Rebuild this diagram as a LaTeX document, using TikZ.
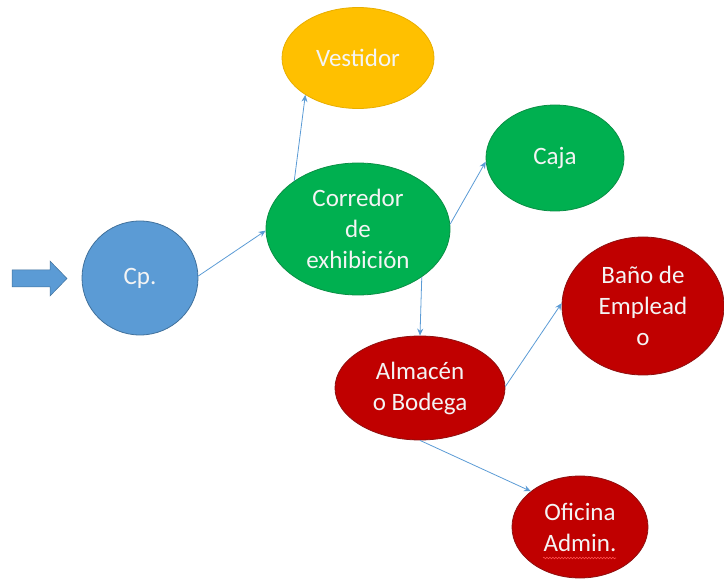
\documentclass[tikz,border=0pt]{standalone}
\usepackage{fontspec}
\setmainfont{Carlito}
\usetikzlibrary{shapes.geometric,arrows.meta,decorations.pathmorphing}

\definecolor{cpblue}{HTML}{5B9BD5}
\definecolor{cpline}{HTML}{41719C}
\definecolor{ygold}{HTML}{FFC000}
\definecolor{ygoldline}{HTML}{E8AE00}
\definecolor{vgreen}{HTML}{00B050}
\definecolor{vgreenline}{HTML}{0A8F45}
\definecolor{dred}{HTML}{C00000}
\definecolor{dredline}{HTML}{8E1010}
\definecolor{txt}{HTML}{F4F4F4}

\tikzset{
  room/.style={ellipse, inner sep=0pt, line width=0.8pt, text=txt,
    align=center, font=\fontsize{25}{31}\selectfont},
  bluebox/.style={room, fill=cpblue, draw=cpline},
  goldbox/.style={room, fill=ygold, draw=ygoldline},
  greenbox/.style={room, fill=vgreen, draw=vgreenline},
  redbox/.style={room, fill=dred, draw=dredline},
  link/.style={draw=cpblue, line width=0.8pt,
    -{Stealth[length=7pt,width=6pt]}},
}

\begin{document}
\begin{tikzpicture}[x=1pt,y=-1pt]
\useasboundingbox (0,0) rectangle (724,588);

% entry arrow
\fill[cpblue, draw=cpline, line width=0.5pt]
  (12,270) -- (50,270) -- (50,261) -- (67,278.5) -- (50,296) -- (50,287) -- (12,287) -- cycle;

% rooms
\node[bluebox, minimum width=116pt, minimum height=114pt] (cp) at (140,278) {Cp.};
\node[goldbox, minimum width=152pt, minimum height=101pt] (vest) at (358,58) {Vestidor};
\node[greenbox, minimum width=184pt, minimum height=132pt] (corr) at (358,229) {Corredor\\de\\exhibición};
\node[greenbox, minimum width=138pt, minimum height=106pt] (caja) at (555,158) {Caja};
\node[redbox, minimum width=162pt, minimum height=138pt] (bano) at (643,306) {Baño de\\Emplead\\o};
\node[redbox, minimum width=170pt, minimum height=104pt] (alm) at (420,388) {Almacén\\o Bodega};
\node[redbox, minimum width=136pt, minimum height=102pt] (ofi) at (580,527) {Oficina\\Admin.};

% spelling mark under the last word
\coordinate (squigA) at ([xshift=-37pt,yshift=-31pt]ofi.center);
\coordinate (squigB) at ([xshift=36pt,yshift=-31pt]ofi.center);
\draw[red!70!white, line width=0.6pt, decorate,
  decoration={snake, amplitude=0.8pt, segment length=3pt}] (squigA) -- (squigB);

% connections
\draw[link] (cp.2) -- (corr.181);
\draw[link] (corr.143) -- (vest.215);
\draw[link] (corr.3) -- (caja.183);
\draw[link] (corr.323) -- (alm.90);
\draw[link] (alm.1) -- (bano.178);
\draw[link] (alm.270) -- (ofi.144);
\end{tikzpicture}
\end{document}
